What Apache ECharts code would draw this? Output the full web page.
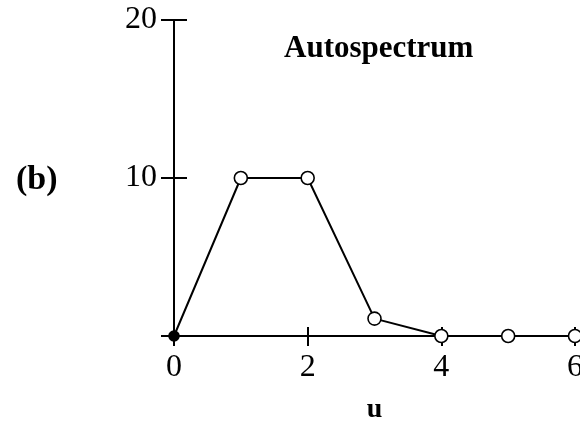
<!DOCTYPE html>
<html><head><meta charset="utf-8">
<script src="https://cdn.jsdelivr.net/npm/echarts@6/dist/echarts.min.js"></script>
<style>html,body{margin:0;padding:0;background:#fff}#c{width:580px;height:424px}</style>
</head><body><div id="c"></div>
<script>
const uValues = [0, 1, 2, 3, 4, 5, 6];
const autospectrum = [0, 10, 10, 1.1, 0, 0, 0];
const xTicks = [0, 2, 4, 6];
const yTicks = [10, 20];

const chart = echarts.init(document.getElementById('c'), null, {renderer: 'canvas'});
const font = '"Liberation Serif", "DejaVu Serif", serif';
const grid = {left: 174, right: 5, top: 20, bottom: 88, outerBoundsMode: 'none', containLabel: false};
const baseX = {type: 'value', min: 0, max: 6, interval: 2, gridIndex: 0, position: 'bottom', splitLine: {show: false}};
const baseY = {type: 'value', min: 0, max: 20, interval: 10, gridIndex: 0, position: 'left', splitLine: {show: false}};
chart.setOption({
  animation: false,
  grid: grid,
  xAxis: [
    Object.assign({}, baseX, {
      axisLine: {show: true, lineStyle: {color: '#000', width: 2}},
      axisTick: {show: true, length: 10, lineStyle: {color: '#000', width: 2}},
      axisLabel: {show: true, color: '#000', fontFamily: font, fontSize: 32, margin: 16,
        formatter: v => xTicks.includes(v) ? String(v) : ''},
      name: 'u', nameLocation: 'middle', nameGap: 60,
      nameTextStyle: {color: '#000', fontFamily: font, fontSize: 28, fontWeight: 'bold'}
    }),
    Object.assign({}, baseX, {
      offset: 0,
      axisLine: {show: false},
      axisTick: {show: true, inside: true, length: 9, lineStyle: {color: '#000', width: 2}},
      axisLabel: {show: false}
    })
  ],
  yAxis: [
    Object.assign({}, baseY, {
      axisLine: {show: true, lineStyle: {color: '#000', width: 2}},
      axisTick: {show: true, length: 13, lineStyle: {color: '#000', width: 2}},
      axisLabel: {show: true, color: '#000', fontFamily: font, fontSize: 32, margin: 17,
        formatter: v => yTicks.includes(v) ? String(v) : ''}
    }),
    Object.assign({}, baseY, {
      offset: 0,
      axisLine: {show: false},
      axisTick: {show: true, inside: true, length: 13, lineStyle: {color: '#000', width: 2}},
      axisLabel: {show: false}
    })
  ],
  graphic: [
    {type: 'text', left: 284, top: 33, style: {text: 'Autospectrum', font: 'bold 31px ' + font, fill: '#000'}},
    {type: 'text', left: 16, top: 163, style: {text: '(b)', font: 'bold 34px ' + font, fill: '#000'}}
  ],
  series: [{
    type: 'line',
    xAxisIndex: 0, yAxisIndex: 0,
    data: uValues.map((u, i) => i === 0
      ? {value: [u, autospectrum[i]], symbolSize: 10, itemStyle: {color: '#000'}}
      : [u, autospectrum[i]]),
    symbol: 'circle', symbolSize: 13,
    lineStyle: {color: '#000', width: 2},
    itemStyle: {color: '#fff', borderColor: '#000', borderWidth: 1.6},
    z: 5
  }]
});
</script></body></html>
